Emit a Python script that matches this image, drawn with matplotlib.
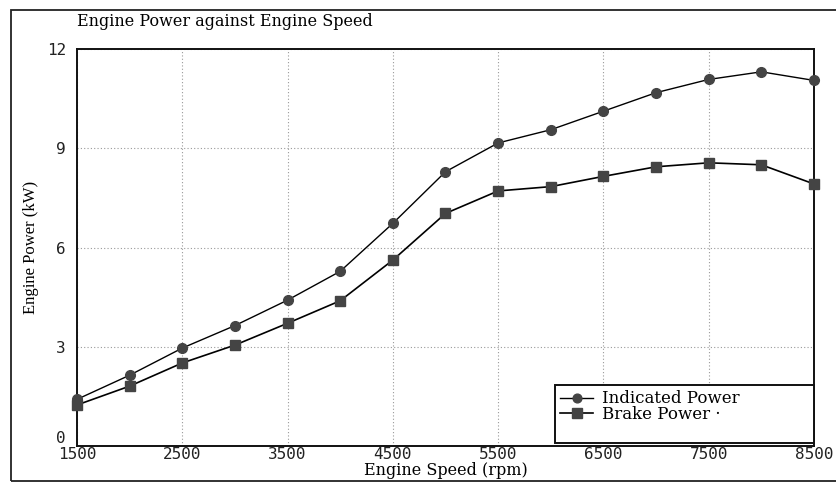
import matplotlib
matplotlib.use("Agg")
import matplotlib.pyplot as plt
from matplotlib.patches import Rectangle
from matplotlib.lines import Line2D

speed = [1500, 2000, 2500, 3000, 3500, 4000, 4500, 5000, 5500, 6000, 6500, 7000, 7500, 8000, 8500]
indicated = [1.41, 2.14, 2.96, 3.64, 4.41, 5.28, 6.73, 8.29, 9.16, 9.56, 10.12, 10.68, 11.08, 11.31, 11.05]
brake = [1.24, 1.81, 2.51, 3.05, 3.71, 4.39, 5.62, 7.03, 7.71, 7.84, 8.15, 8.44, 8.56, 8.50, 7.92]
xticks = [1500, 2500, 3500, 4500, 5500, 6500, 7500, 8500]
yticks = [0, 3, 6, 9, 12]

W, H = 837, 483
fig = plt.figure(figsize=(W / 100, H / 100), dpi=100)
fig.patch.set_facecolor("white")

# outer frame
fig.add_artist(Rectangle((11 / W, 1 - 481 / H), (W + 5 - 11) / W, (481 - 10) / H,
                         transform=fig.transFigure, fill=False, edgecolor="#222222", lw=1.3))

ax = fig.add_axes([77 / W, 1 - 446 / H, (814 - 77) / W, (446 - 49) / H])
serif = "DejaVu Serif"
mark = "#444444"
ax.plot(speed, indicated, color="black", lw=1.0, marker="o", ms=7, clip_on=False, zorder=3,
        markerfacecolor=mark, markeredgecolor=mark, label="Indicated Power")
ax.plot(speed, brake, color="black", lw=1.2, marker="s", ms=7.5, clip_on=False, zorder=3,
        markerfacecolor=mark, markeredgecolor=mark, label="Brake Power \u00b7")

ax.set_xlim(1500, 8500)
ax.set_ylim(0, 12)
ax.set_xticks(xticks)
ax.set_yticks(yticks)
ax.tick_params(axis="x", length=0, labelsize=11.5, pad=1)
ax.tick_params(axis="y", length=0, labelsize=11.5, pad=8)
for lab in ax.get_xticklabels() + ax.get_yticklabels():
    lab.set_family("DejaVu Sans Mono")
    lab.set_color("#222222")
ax.get_yticklabels()[0].set_va("bottom")
ax.grid(True, linestyle=(0, (1, 2)), color="#999999", lw=0.8)
for s in ax.spines.values():
    s.set_linewidth(1.4)
    s.set_color("#111111")

ax.set_xlabel("Engine Speed (rpm)", family=serif, fontsize=11.5, labelpad=0)
ax.set_ylabel("Engine Power (kW)", family="Liberation Serif", fontsize=12)
ax.yaxis.set_label_coords((39 - 77) / (814 - 77), 0.5)
fig.text(77 / W, 1 - 22 / H, "Engine Power against Engine Speed", family=serif,
         fontsize=11.5, ha="left", va="center")

handles, labels = ax.get_legend_handles_labels()
handles.append(Line2D([], [], color="none"))
labels.append(" ")
leg = ax.legend(handles, labels, loc="lower left",
                bbox_to_anchor=((555 - 77) / (814 - 77), (446 - 443) / (446 - 49),
                                (814 - 555) / (814 - 77), 0.1),
                mode="expand", borderaxespad=0, fancybox=False, framealpha=1,
                edgecolor="#111111", prop={"family": serif, "size": 12},
                handlelength=2.0, handletextpad=0.5, labelspacing=-0.1, borderpad=0.3,
                markerscale=0.9)
leg.get_frame().set_linewidth(1.4)
leg.set_zorder(5)

fig.savefig("out.png", dpi=100)
